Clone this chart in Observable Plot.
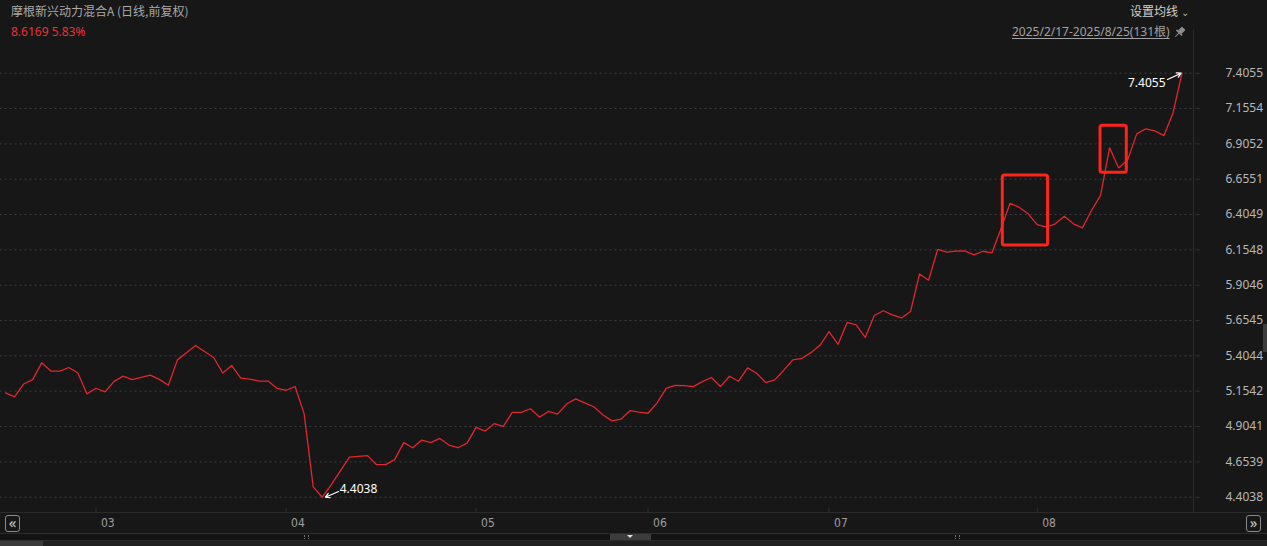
<!DOCTYPE html>
<html><head><meta charset="utf-8">
<script src="https://cdn.jsdelivr.net/npm/d3@7"></script>
<script src="https://cdn.jsdelivr.net/npm/@observablehq/plot@0.6"></script>
<style>
html,body{margin:0;padding:0;background:#171717;overflow:hidden}
#wrap{position:relative;width:1267px;height:546px;background:#171717;font-family:"Noto Sans","Noto Sans CJK SC",sans-serif;overflow:hidden}
.abs{position:absolute;white-space:nowrap;line-height:1}
.btn{position:absolute;width:13px;height:15px;border:1px solid #8a8a8a;border-radius:3px;color:#c8c8c8;font-size:15px;text-align:center;line-height:13px;box-sizing:content-box}
</style></head><body>
<div id="wrap">
  <div id="chart" class="abs" style="left:0;top:0"></div>
  <div class="abs" style="left:11px;top:5px;font-size:12px;color:#a9a9a9;font-family:'Noto Sans CJK SC',sans-serif">摩根新兴动力混合A (日线,前复权)</div>
  <div class="abs" style="left:11px;top:26px;font-size:12px;color:#e8323a">8.6169 5.83%</div>
  <div class="abs" style="left:1130px;top:5px;font-size:12px;color:#cfcfcf;font-family:'Noto Sans CJK SC',sans-serif">设置均线 <span style="font-size:10px;color:#aaa">&#8964;</span></div>
  <div class="abs" style="left:1012px;top:26px;font-size:12px;color:#a0a0a0;text-decoration:underline;text-underline-offset:2px;font-family:'Noto Sans','Noto Sans CJK SC',sans-serif">2025/2/17-2025/8/25(131根)</div>
  <svg class="abs" style="left:1173px;top:26px" width="13" height="13" viewBox="0 0 13 13"><g fill="#8c8c8c" transform="rotate(45 6.5 6.5)"><rect x="4" y="0.5" width="5" height="6" rx="1"/><rect x="2.5" y="6" width="8" height="1.6"/><rect x="6" y="7.5" width="1" height="5"/></g></svg>
  <div class="abs" style="left:1193px;top:30px;width:1px;height:483px;background:#2c2c2c"></div>
  <div class="abs" style="left:0;top:512px;width:1267px;height:1px;background:#2a2a2a"></div>
  <div class="btn" style="left:5px;top:515px">&laquo;</div>
  <div class="btn" style="left:1246px;top:515px">&raquo;</div>
  <div class="abs" style="left:0;top:533px;width:1267px;height:6px;background:#131313;border-top:1px solid #2c2c2c;border-bottom:1px solid #2c2c2c"></div>
  <div class="abs" style="left:610px;top:534px;width:41px;height:6px;background:#3c3c3c"></div>
  <div class="abs" style="left:627px;top:535px;width:0;height:0;border-left:3px solid transparent;border-right:3px solid transparent;border-top:3px solid #e0e0e0"></div>
  <div class="abs" style="left:304px;top:535px;width:3px;height:4px;border-left:1px dotted #777;border-right:1px dotted #777"></div>
  <div class="abs" style="left:955px;top:535px;width:3px;height:4px;border-left:1px dotted #777;border-right:1px dotted #777"></div>
  <div class="abs" style="left:0;top:541px;width:1267px;height:5px;background:#202020"></div>
  <div class="abs" style="left:0;top:541px;width:43px;height:5px;background:#3a3a3a"></div>
  <div class="abs" style="left:1263px;top:324px;width:4px;height:28px;background:#3c3c3c"></div>
</div>
<script>
// y-axis tick labels (as shown on the chart)
const tickLabels = ["7.4055","7.1554","6.9052","6.6551","6.4049","6.1548","5.9046","5.6545","5.4044","5.1542","4.9041","4.6539","4.4038"];
// month labels and the trading-day index where each month starts
const monthLabels = ["03","04","05","06","07","08"];
const monthStartIdx = [10,31,52,71,91,114];
// daily NAV (forward-adjusted), 2025/2/17 - 2025/8/25, 131 trading days
const nav = [
 5.142,5.114,5.205,5.236,5.355,5.297,5.297,5.322,5.283,5.135,
 5.175,5.149,5.224,5.261,5.236,5.252,5.268,5.238,5.196,5.376,
 5.426,5.477,5.435,5.393,5.283,5.336,5.247,5.240,5.226,5.226,
 5.175,5.161,5.187,4.994,4.477,4.4038,4.493,4.590,4.688,4.693,
 4.698,4.634,4.634,4.670,4.790,4.754,4.808,4.790,4.820,4.773,
 4.754,4.787,4.898,4.872,4.924,4.905,5.004,5.004,5.030,4.971,
 5.011,4.992,5.064,5.100,5.072,5.044,4.987,4.944,4.956,5.016,
 5.006,4.998,5.072,5.174,5.195,5.194,5.187,5.222,5.251,5.187,
 5.260,5.225,5.319,5.281,5.215,5.234,5.303,5.376,5.387,5.427,
 5.479,5.576,5.486,5.641,5.623,5.535,5.690,5.724,5.694,5.673,
 5.718,5.984,5.940,6.158,6.139,6.146,6.148,6.119,6.145,6.134,
 6.305,6.485,6.457,6.410,6.334,6.315,6.339,6.393,6.339,6.311,
 6.433,6.540,6.877,6.735,6.792,6.976,7.012,6.997,6.964,7.122,
 7.4055
];
// highlight boxes (trading-day index range, NAV range)
const boxI1 = [110.2, 121.0];
const boxI2 = [115.2, 123.9];
const boxV1 = [6.186, 6.700];
const boxV2 = [6.681, 7.033];

const tickVals = tickLabels.map(Number);
const data = nav.map((v, i) => ({i, v}));
const months = monthLabels.map((t, k) => ({i: monthStartIdx[k], t}));
const boxes = boxI1.map((d, k) => ({i1: d, i2: boxI2[k], v1: boxV1[k], v2: boxV2[k]}));
const vMin = d3.min(nav), vMax = d3.max(nav);
const iMin = nav.indexOf(vMin), iMax = nav.indexOf(vMax);
const yLo = d3.min(tickVals), yHi = d3.max(tickVals);
const step = (yHi - yLo) / (tickVals.length - 1);

const chart = Plot.plot({
  width: 1267, height: 546,
  marginLeft: 5, marginRight: 85.5, marginTop: 72.7, marginBottom: 49.3,
  x: {domain: [0, nav.length - 1], axis: null},
  y: {domain: [yLo, yHi], axis: null},
  style: {background: "transparent", color: "#b5b5b5", fontFamily: "'Noto Sans', sans-serif", fontSize: "12px", overflow: "visible"},
  marks: [
    Plot.ruleY(tickVals, {x1: -0.6, x2: 131.5, stroke: "#3a3d44", strokeDasharray: "2,3", strokeWidth: 1}),
    Plot.ruleY(tickVals, {x1: 131.6, x2: 132.0, stroke: "#333", strokeWidth: 1}),
    Plot.axisY({ticks: tickVals, anchor: "right", tickSize: 0, tickPadding: 43.5, tickFormat: d => d.toFixed(4), fontSize: 12, color: "#b8b8b8", label: null}),
    Plot.ruleX(monthStartIdx, {x: d => d, y1: yLo - step * 0.46, y2: yLo - step * 0.33, stroke: "#333", strokeWidth: 1}),
    Plot.text(months, {x: "i", text: "t", frameAnchor: "bottom", dy: 29.5, dx: 5, textAnchor: "start", fill: "#9e9e9e", fontSize: 12, fontFamily: "'Liberation Sans Narrow','DejaVu Sans Condensed',sans-serif"}),
    Plot.line(data, {x: "i", y: "v", stroke: "#e3252d", strokeWidth: 1.3}),
    Plot.rect(boxes, {x1: "i1", x2: "i2", y1: "v1", y2: "v2", fill: "none", stroke: "#ff2418", strokeWidth: 3, rx: 2}),
    Plot.arrow([{i: iMax, v: vMax}], {x1: d => d.i - 1.6, y1: d => d.v - 0.045, x2: d => d.i - 0.1, y2: "v", stroke: "#ffffff", strokeWidth: 1.2, headLength: 6}),
    Plot.text([{i: iMax, v: vMax}], {x: "i", y: "v", text: d => d.v.toFixed(4), textAnchor: "end", dx: -16.5, dy: 9.5, fill: "#ffffff", fontSize: 12}),
    Plot.arrow([{i: iMin, v: vMin}], {x1: d => d.i + 1.8, y1: d => d.v + 0.04, x2: d => d.i + 0.35, y2: "v", stroke: "#ffffff", strokeWidth: 1.2, headLength: 6}),
    Plot.text([{i: iMin, v: vMin}], {x: "i", y: "v", text: d => d.v.toFixed(4), textAnchor: "start", dx: 17.5, dy: -7.7, fill: "#ffffff", fontSize: 12})
  ]
});
document.getElementById("chart").appendChild(chart);
</script>
</body></html>
